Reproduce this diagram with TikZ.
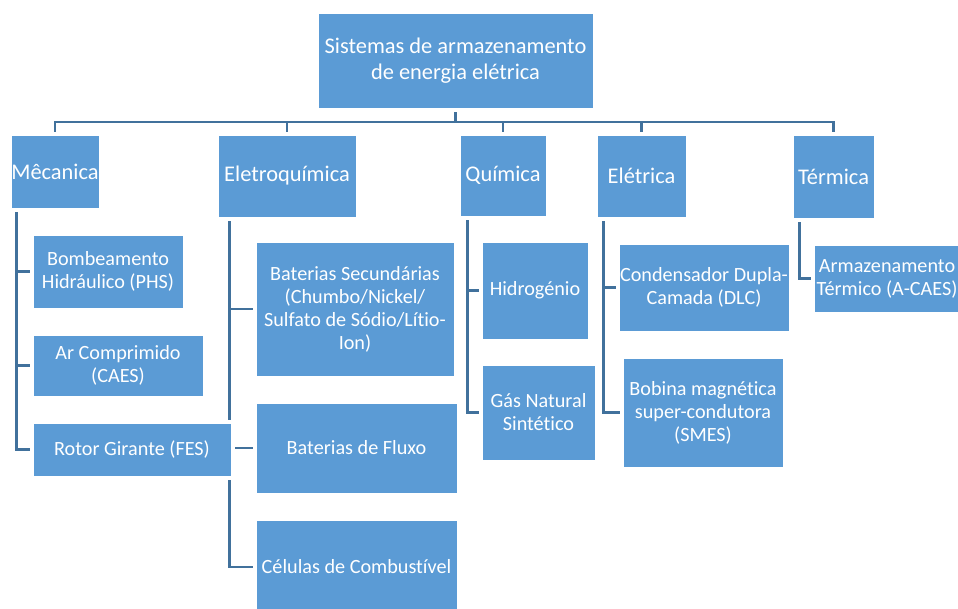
\documentclass[tikz,border=0pt]{standalone}
\usepackage{fontspec}
\setmainfont{Carlito}[Ligatures=NoCommon]
\usepackage{tikz}
\usetikzlibrary{backgrounds}
\definecolor{boxblue}{rgb}{0.357,0.608,0.835}
\definecolor{linkblue}{rgb}{0.255,0.443,0.612}
\tikzset{
  box/.style={rectangle,fill=boxblue,draw=white,line width=0.6pt,text=white,inner sep=0pt,align=center,
    preaction={draw=white,line width=7pt}},
  bigbox/.style={box,font=\fontsize{22.4}{26}\selectfont},
  smallbox/.style={box,font=\fontsize{20.2}{23}\selectfont},
  link/.style={draw=linkblue,line width=2.6pt}
}
\begin{document}
\begin{tikzpicture}[line cap=butt,line join=miter,x=1pt,y=-1pt]
\useasboundingbox (0,0) rectangle (958,608);
\node[bigbox,minimum width=275pt,minimum height=95pt] (root) at (455.5,60.5) {Sistemas de armazenamento\\de energia elétrica};
\node[bigbox,minimum width=88pt,minimum height=73pt] (mec) at (55,171.5) {Mêcanica};
\node[bigbox,minimum width=138pt,minimum height=82pt] (ele) at (287,176) {Eletroquímica};
\node[bigbox,minimum width=86pt,minimum height=81pt] (qui) at (503,175.5) {Química};
\node[bigbox,minimum width=89pt,minimum height=82pt] (elt) at (641.5,176) {Elétrica};
\node[bigbox,minimum width=81pt,minimum height=83pt] (ter) at (833.5,176.5) {Térmica};
\node[smallbox,minimum width=150pt,minimum height=73pt] (phs) at (108,271.5) {Bombeamento\\Hidráulico (PHS)};
\node[smallbox,minimum width=170pt,minimum height=61pt] (caes) at (118,365.5) {Ar Comprimido\\(CAES)};
\node[smallbox,minimum width=198pt,minimum height=53pt] (fes) at (132,449.5) {Rotor Girante (FES)};
\node[smallbox,minimum width=198pt,minimum height=134pt] (bsec) at (355,309) {Baterias Secundárias\\(Chumbo/Nickel/\\Sulfato de Sódio/Lítio-\\Ion)};
\node[smallbox,minimum width=201pt,minimum height=90pt] (bflux) at (356.5,448) {Baterias de Fluxo};
\node[smallbox,minimum width=201pt,minimum height=94pt] (comb) at (356.5,567) {Células de Combustível};
\node[smallbox,minimum width=106pt,minimum height=97pt] (hid) at (535,290.5) {Hidrogénio};
\node[smallbox,minimum width=113pt,minimum height=95pt] (gas) at (538.5,412.5) {Gás Natural\\Sintético};
\node[smallbox,minimum width=170pt,minimum height=87pt] (dlc) at (704,287.5) {Condensador Dupla-\\Camada (DLC)};
\node[smallbox,minimum width=160pt,minimum height=109pt] (smes) at (703,412.5) {Bobina magnética\\super-condutora\\(SMES)};
\node[smallbox,minimum width=146pt,minimum height=67pt] (acaes) at (887,278.5) {Armazenamento\\Térmico (A-CAES)};
\coordinate (bus) at (0,122);
\begin{pgfonlayer}{background}
% tree links
\foreach \n in {mec,ele,qui,elt,ter}
  \draw[link] (root.south) -- (root.south |- bus) -| (\n.north);
\foreach \n in {phs,caes,fes}
  \draw[link] ([xshift=6pt]mec.south west) |- (\n.west);
\foreach \n in {bsec,bflux,comb}
  \draw[link] ([xshift=12pt]ele.south west) |- (\n.west);
\foreach \n in {hid,gas}
  \draw[link] ([xshift=8pt]qui.south west) |- (\n.west);
\foreach \n in {dlc,smes}
  \draw[link] ([xshift=7pt]elt.south west) |- (\n.west);
\draw[link] ([xshift=7pt]ter.south west) |- (acaes.west);
\end{pgfonlayer}
\end{tikzpicture}
\end{document}
